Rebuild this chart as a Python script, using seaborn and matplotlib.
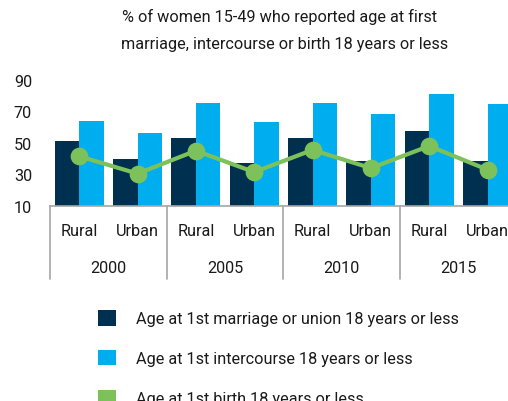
import matplotlib
matplotlib.use("Agg")
import matplotlib.pyplot as plt
from matplotlib.patches import Patch
import pandas as pd
import seaborn as sns

# Survey rounds and residence groups
years = ["2000", "2005", "2010", "2015"]
residence = ["Rural", "Urban"]

# % of women 15-49 reporting each event at age 18 or less
marriage = [51, 40, 53, 37.5, 53, 38.5, 57.5, 38.5]
intercourse = [64, 56, 75, 63, 75, 68.5, 81, 74.5]
birth = [41.5, 30.5, 45, 31.5, 45.5, 34, 48, 33]

series_labels = [
    "Age at 1st marriage or union 18 years or less",
    "Age at 1st intercourse 18 years or less",
    "Age at 1st birth 18 years or less",
]
y_ticks = [10, 30, 50, 70, 90]

NAVY = "#00304f"
BLUE = "#00aeef"
GREEN = "#7dc15b"
GREY = "#a6a6a6"
TEXT = "#1a1a1a"
FS = 11.7

groups = [f"{y} {r}" for y in years for r in residence]
bars = pd.DataFrame({
    "group": groups * 2,
    "series": [series_labels[0]] * len(groups) + [series_labels[1]] * len(groups),
    "value": marriage + intercourse,
})
births = pd.DataFrame({"group": groups, "value": birth})

sns.set_style("white")
plt.rcParams["font.family"] = ["Roboto", "DejaVu Sans"]
plt.rcParams["text.color"] = TEXT

W, H = 508, 402
fig = plt.figure(figsize=(W / 100, H / 100), dpi=100)
left, right, top, bottom = 50, 516.7, 80.7, 207
ax = fig.add_axes([left / W, 1 - bottom / H, (right - left) / W, (bottom - top) / H])

sns.barplot(data=bars, x="group", y="value", hue="series", order=groups,
            hue_order=series_labels[:2], palette=[NAVY, BLUE], width=0.84,
            saturation=1, linewidth=0, legend=False, ax=ax)
sns.pointplot(data=births, x="group", y="value", order=groups, color=GREEN,
              markersize=10.5, linewidth=3, errorbar=None, ax=ax)
for coll in ax.collections:
    coll.set_zorder(5)
for ln in ax.lines:
    ln.set_zorder(4)

ax.set_xlim(-0.5, len(groups) - 0.5)
ax.set_ylim(10, 90)
ax.set_yticks(y_ticks)
ax.tick_params(axis="y", length=0, pad=13, labelsize=FS, labelcolor=TEXT)
ax.set_xticks([])
ax.set_xlabel("")
ax.set_ylabel("")
for side in ["left", "right", "top"]:
    ax.spines[side].set_visible(False)
ax.spines["bottom"].set_color(GREY)
ax.spines["bottom"].set_linewidth(1.2)

# Two-level category axis: residence under each bar pair, year below
tr = ax.get_xaxis_transform()
span = (bottom - top)
y_res = -(231.7 - bottom) / span
y_year = -(268.3 - bottom) / span
y_sep = -(280 - bottom) / span
for i, g in enumerate(groups):
    ax.text(i, y_res, g.split()[1], transform=tr, ha="center", va="center",
            fontsize=FS, color=TEXT, clip_on=False)
for j, yr in enumerate(years):
    ax.text(2 * j + 0.5, y_year, yr, transform=tr, ha="center", va="center",
            fontsize=FS, color=TEXT, clip_on=False)
for k in range(len(years) + 1):
    ax.plot([2 * k - 0.5] * 2, [0, y_sep], transform=tr, color=GREY,
            linewidth=1.2, clip_on=False)

fig.text(280 / W, 1 - 16.7 / H, "% of women 15-49 who reported age at first",
         ha="center", va="center", fontsize=FS, color=TEXT)
fig.text(285 / W, 1 - 44 / H, "marriage, intercourse or birth 18 years or less",
         ha="center", va="center", fontsize=FS, color=TEXT)

handles = [Patch(facecolor=c, edgecolor="none") for c in (NAVY, BLUE, GREEN)]
fig.legend(handles, series_labels, loc="upper left",
           bbox_to_anchor=(98.3 / W, 1 - 311 / H), frameon=False,
           fontsize=FS, handlelength=1.1, handleheight=1.1,
           handletextpad=1.25, labelspacing=1.45, borderpad=0,
           borderaxespad=0)

fig.savefig("out.png", dpi=100)
